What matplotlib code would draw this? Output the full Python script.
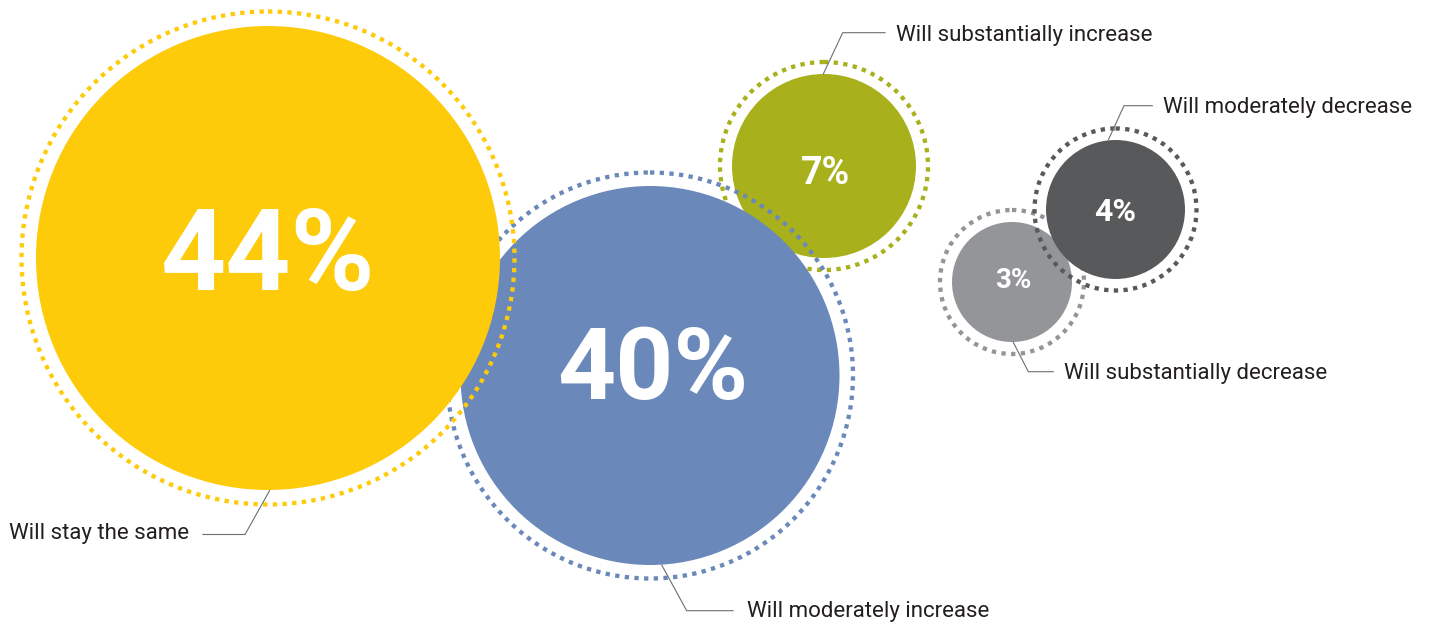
import matplotlib.pyplot as plt
from matplotlib.patches import Circle

# survey answers
labels = ['Will stay the same', 'Will moderately increase', 'Will substantially increase',
          'Will substantially decrease', 'Will moderately decrease']
values = [44, 40, 7, 3, 4]
colors = ['#FECB0A', '#6A89BA', '#A8B11B', '#939598', '#58595B']

# bubble layout in pixel coords (x, y from top), fill radius, ring radius
centers = [(268, 258), (650, 375.5), (824, 166), (1012, 282), (1115.5, 209.5)]
radii = [232, 189.5, 92, 60, 69.5]
ring_radii = [246.5, 203, 104, 72, 81]
pct_pos = [(268, 259), (653, 371), (826, 173), (1013, 281), (1115, 212)]
font_sizes = [82, 73, 27, 20, 23]

# leader lines: circle edge -> elbow -> end, then where the text goes
leaders = [
    [(269.6, 490.6), (245, 534.5), (203, 534.5)],
    [(661.7, 565), (686.7, 610.7), (733, 610.7)],
    [(823.3, 74), (842.7, 32.7), (885, 32.7)],
    [(1013.3, 342.3), (1028.3, 371.7), (1053.3, 371.7)],
    [(1108.3, 140), (1124, 105.7), (1152.3, 105.7)],
]
text_pos = [(189, 534, 'right'), (747, 611, 'left'), (896, 35, 'left'),
            (1064, 374, 'left'), (1163, 108, 'left')]

fig = plt.figure(figsize=(14.33, 6.24), dpi=100)
ax = fig.add_axes([0, 0, 1, 1])
ax.set_xlim(0, 1433)
ax.set_ylim(624, 0)
ax.set_aspect('equal')
ax.axis('off')

# draw back to front: olive, blue, yellow, then the grey pair
order = [2, 1, 0, 3, 4]
for z, i in enumerate(order):
    cx, cy = centers[i]
    ax.add_patch(Circle((cx, cy), radii[i], facecolor=colors[i], edgecolor='none', zorder=2 * z + 1))
    ax.add_patch(Circle((cx, cy), ring_radii[i], fill=False, edgecolor=colors[i],
                        linewidth=3.1, linestyle=(0, (1, 1.25)), capstyle='butt', zorder=2 * z + 2))
    px, py = pct_pos[i]
    ax.text(px, py, f'{values[i]}%', ha='center', va='center', color='white',
            fontsize=font_sizes[i], fontweight='bold', family='Roboto', zorder=20)

for i, pts in enumerate(leaders):
    xs, ys = zip(*pts)
    ax.plot(xs, ys, color='#6d6e71', linewidth=0.8, zorder=21)
    tx, ty, ha = text_pos[i]
    ax.text(tx, ty, labels[i], ha=ha, va='center', color='#231f20',
            fontsize=16, family='Roboto', zorder=22)

fig.savefig('out.png', dpi=100)
